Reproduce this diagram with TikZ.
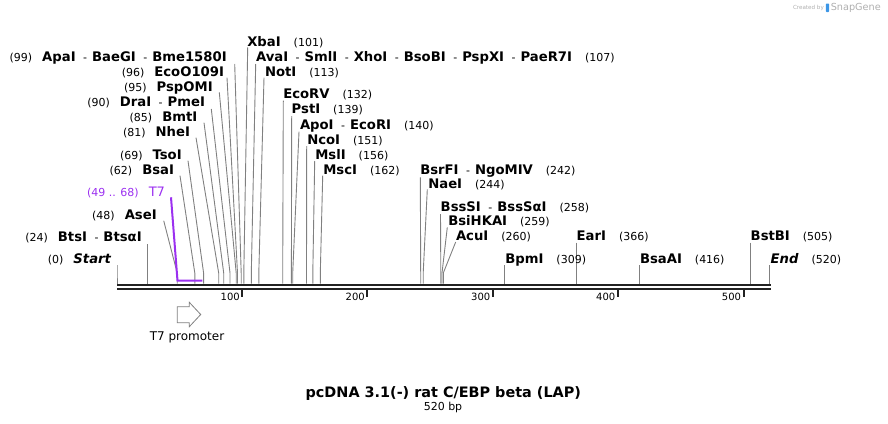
\documentclass[tikz,border=0pt]{standalone}
\usepackage{fontspec}
\setmainfont{DejaVu Sans}
\definecolor{sitegray}{RGB}{128,128,128}
\definecolor{bbcol}{RGB}{34,34,34}
\definecolor{featpurple}{RGB}{155,48,240}
\definecolor{wmgray}{RGB}{175,175,175}
\definecolor{wmblue}{RGB}{60,150,230}
\newcommand{\enz}[1]{{\fontsize{13.2}{15}\selectfont\bfseries #1}}
\newcommand{\enzit}[1]{{\fontsize{13.2}{15}\selectfont\bfseries\itshape #1}}
\newcommand{\enzpos}[1]{{\fontsize{11}{13}\selectfont #1}}
\newcommand{\dsh}{\hspace{7.5pt}{\fontsize{11}{13}\selectfont -}\hspace{5pt}}
\newcommand{\lgap}{\hspace{10pt}}
\newcommand{\rgap}{\hspace{13pt}}
\begin{document}
\begin{tikzpicture}[x=1pt,y=-1pt,
  lbl/.style={inner sep=0pt,outer sep=0pt},
  lleft/.style={lbl,anchor=base east},
  lright/.style={lbl,anchor=base west},
  siteline/.style={draw=sitegray,line width=0.9pt},
  backbone/.style={draw=bbcol},
  tickmark/.style={draw=bbcol,line width=2pt},
  ticklbl/.style={lbl,anchor=base east,font=\fontsize{10}{12}\selectfont},
  featline/.style={draw=featpurple,line width=2pt},
  arrowshape/.style={draw=sitegray,fill=white,line width=0.8pt}]
\useasboundingbox (0,0) rectangle (888,423);

% site connectors: name / top x / top y / site x
\foreach \n/\tx/\ty/\sx in {
  Apa/234.7/64/241.2, EcoO/227/77.7/237.5, PspO/219.3/92.3/236.2,
  Dra/211.3/109/230.0, Bmt/204/122.7/223.7, Nhe/196/137.7/218.7,
  Tso/188/160.7/203.6, Bsa/180/175.7/194.8, Ase/163.7/220.7/177.2,
  Bts/147.1/244/147.1, Start/117/265/117,
  Xba/247.7/47.3/243.8, Ava/255.7/64/251.3, Not/264/77.7/258.8,
  EcoRV/283.3/100.7/282.7, Pst/291.7/116/291.4, Apo/299/131.7/292.7,
  Nco/306.7/146/306.5, Msl/314.7/161/312.8, Msc/322.7/175.7/320.3,
  BsrF/420.3/177.3/420.7, Nae/427.3/189.3/423.2, BssS/440.5/214/440.8,
  BsiHKA/447.3/227.3/442.0, Acu/455.7/242/443.3, Bpm/504.8/265/504.8,
  Ear/576.3/242.7/576.3, BsaA/639.1/265/639.1, BstB/750.8/242.7/750.8,
  End/769.6/265/769.6}{
  \coordinate (t\n) at (\tx,\ty);
  \coordinate (k\n) at (\sx,273);
  \coordinate (b\n) at (\sx,283.5);
  \draw[siteline] (t\n) -- (k\n) -- (b\n);
}

% T7 feature
\coordinate (tT7) at (171,197.3);
\coordinate (kT7) at (177.5,280.7);
\coordinate (eT7) at (202.3,280.7);
\draw[featline] (tT7) -- (kT7) -- (eT7);

% backbone
\coordinate (bbL) at (117,285);
\coordinate (bbR) at (770.7,285);
\coordinate (bbL2) at (117,288.8);
\coordinate (bbR2) at (770.7,288.8);
\draw[backbone,line width=2.6pt] (bbL) -- (bbR);
\draw[backbone,line width=2pt] (bbL2) -- (bbR2);

% ticks
\foreach \tx/\tl in {242.3/100, 367.3/200, 492.8/300, 617.8/400, 743.5/500}{
  \coordinate (ta\tl) at (\tx,290.3);
  \coordinate (tb\tl) at (\tx,296.8);
  \draw[tickmark] (ta\tl) -- (tb\tl);
  \node[ticklbl] (tl\tl) at (\tx-2.5,300.2) {\tl};
}

% left labels
\node[lleft] (lApa) at (226.7,61) {\enzpos{(99)}\lgap\enz{ApaI}\dsh\enz{BaeGI}\dsh\enz{Bme1580I}};
\node[lleft] (lEcoO) at (224,76) {\enzpos{(96)}\lgap\enz{EcoO109I}};
\node[lleft] (lPspO) at (212.7,91) {\enzpos{(95)}\lgap\enz{PspOMI}};
\node[lleft] (lDra) at (205,106) {\enzpos{(90)}\lgap\enz{DraI}\dsh\enz{PmeI}};
\node[lleft] (lBmt) at (197.3,121) {\enzpos{(85)}\lgap\enz{BmtI}};
\node[lleft] (lNhe) at (190,136) {\enzpos{(81)}\lgap\enz{NheI}};
\node[lleft] (lTso) at (181.7,159) {\enzpos{(69)}\lgap\enz{TsoI}};
\node[lleft] (lBsa) at (174,174) {\enzpos{(62)}\lgap\enz{BsaI}};
\node[lleft,text=featpurple] (lT7) at (165,196) {\enzpos{(49 .. 68)}\lgap{\fontsize{13}{15}\selectfont T7}};
\node[lleft] (lAse) at (156.7,219) {\enzpos{(48)}\lgap\enz{AseI}};
\node[lleft] (lBts) at (141.7,241) {\enzpos{(24)}\lgap\enz{BtsI}\dsh\enz{BtsαI}};
\node[lleft] (lStart) at (111,263.5) {\enzpos{(0)}\lgap\enzit{Start}};

% right labels
\node[lright] (lXba) at (247.3,46.5) {\enz{XbaI}\rgap\enzpos{(101)}};
\node[lright] (lAva) at (256,61) {\enz{AvaI}\dsh\enz{SmlI}\dsh\enz{XhoI}\dsh\enz{BsoBI}\dsh\enz{PspXI}\dsh\enz{PaeR7I}\rgap\enzpos{(107)}};
\node[lright] (lNot) at (265,76) {\enz{NotI}\rgap\enzpos{(113)}};
\node[lright] (lEcoRV) at (283.3,98.5) {\enz{EcoRV}\rgap\enzpos{(132)}};
\node[lright] (lPst) at (291.7,113.5) {\enz{PstI}\rgap\enzpos{(139)}};
\node[lright] (lApo) at (300,129) {\enz{ApoI}\dsh\enz{EcoRI}\rgap\enzpos{(140)}};
\node[lright] (lNco) at (307.3,144) {\enz{NcoI}\rgap\enzpos{(151)}};
\node[lright] (lMsl) at (315.3,159) {\enz{MslI}\rgap\enzpos{(156)}};
\node[lright] (lMsc) at (323.3,174) {\enz{MscI}\rgap\enzpos{(162)}};
\node[lright] (lBsrF) at (420.3,174) {\enz{BsrFI}\dsh\enz{NgoMIV}\rgap\enzpos{(242)}};
\node[lright] (lNae) at (428.3,188.5) {\enz{NaeI}\rgap\enzpos{(244)}};
\node[lright] (lBssS) at (440.7,211) {\enz{BssSI}\dsh\enz{BssSαI}\rgap\enzpos{(258)}};
\node[lright] (lBsiHKA) at (448.3,225) {\enz{BsiHKAI}\rgap\enzpos{(259)}};
\node[lright] (lAcu) at (456,240.5) {\enz{AcuI}\rgap\enzpos{(260)}};
\node[lright] (lBpm) at (505.3,263.5) {\enz{BpmI}\rgap\enzpos{(309)}};
\node[lright] (lEar) at (576.7,240.5) {\enz{EarI}\rgap\enzpos{(366)}};
\node[lright] (lBsaA) at (640,263.5) {\enz{BsaAI}\rgap\enzpos{(416)}};
\node[lright] (lBstB) at (750.7,240.5) {\enz{BstBI}\rgap\enzpos{(505)}};
\node[lright] (lEnd) at (770.7,263.5) {\enzit{End}\rgap\enzpos{(520)}};

% T7 promoter feature arrow
\draw[arrowshape] (177.3,306.7) -- (189.3,306.7) -- (189.3,302.3) -- (200.7,314.5)
  -- (189.3,326.7) -- (189.3,322.7) -- (177.3,322.7) -- cycle;
\node[lbl,anchor=base] (lT7p) at (187,340.7) {\fontsize{12}{14}\selectfont T7 promoter};

% title
\node[lbl,anchor=base] (title) at (443.3,397) {\fontsize{14.4}{16}\selectfont\bfseries pcDNA 3.1(-) rat C/EBP beta (LAP)};
\node[lbl,anchor=base] (size) at (443,410.7) {\fontsize{11}{13}\selectfont 520 bp};

% watermark
\node[lbl,anchor=base west,text=wmgray] (wm1) at (793,9.2) {\fontsize{5.6}{7}\selectfont Created by};
\fill[wmblue,rounded corners=0.8pt] (825.8,3.5) rectangle (829.2,12);
\node[lbl,anchor=base west,text=wmgray] (wm2) at (830.8,10.5) {\fontsize{9.7}{11}\selectfont SnapGene};
\end{tikzpicture}
\end{document}
